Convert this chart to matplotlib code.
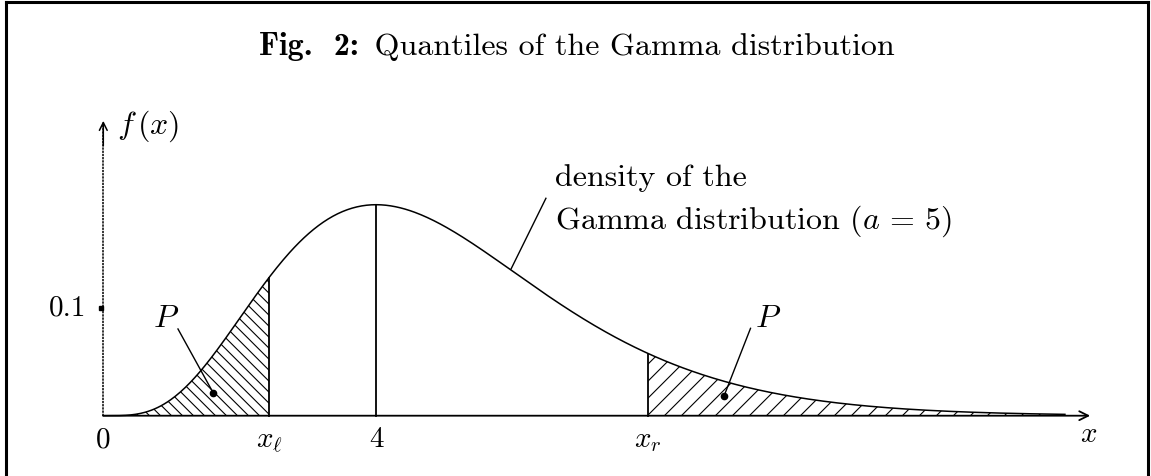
import math
import numpy as np
import matplotlib
matplotlib.use('Agg')
import matplotlib.pyplot as plt
from matplotlib.lines import Line2D
from matplotlib.patches import Polygon
from matplotlib.collections import LineCollection

plt.rcParams['mathtext.fontset'] = 'cm'
plt.rcParams['font.family'] = 'cmr10'
plt.rcParams['axes.formatter.use_mathtext'] = True

# --- dados ---
forma_a = 5            # parâmetro da Gamma
x_esq = 2.43           # quantil x_l (P = 0.1)
x_dir = 7.99           # quantil x_r (P = 0.1)
moda = 4
marca_y = [0.1]
x_fim = 14.1           # até onde a curva é desenhada

# escala em pixels por unidade (figura 1151x477 a 100 dpi)
SX, SY = 68.2, 1080.0
X0_PX, Y0_PX = 103.3, 416.7


def densidade(x):
    return x ** (forma_a - 1) * np.exp(-x) / math.gamma(forma_a)


def hachura(ax, x0, x1, passo_px, sentido):
    """Hachura a 45 graus (em pixels) sob a curva entre x0 e x1."""
    xs = np.linspace(x0, x1, 300)
    verts = np.column_stack([np.r_[x0, xs, x1], np.r_[0, densidade(xs), 0]])
    area = Polygon(verts, closed=True, facecolor='none', edgecolor='none')
    ax.add_patch(area)
    k = sentido * SX / SY
    segs = []
    for c in np.arange(x0 - 4, x1 + 4, passo_px / SX):
        xa, xb = c - 4, c + 4
        segs.append([(xa, k * (xa - c)), (xb, k * (xb - c))])
    lc = LineCollection(segs, colors='black', linewidths=0.8, zorder=2)
    ax.add_collection(lc, autolim=False)
    lc.set_clip_path(area)


fig = plt.figure(figsize=(11.51, 4.77), dpi=100)
ax = fig.add_axes([0, 0, 1, 1])
ax.set_xlim(-X0_PX / SX, (1151 - X0_PX) / SX)
ax.set_ylim(-(477 - Y0_PX) / SY, Y0_PX / SY)
ax.axis('off')

xs = np.linspace(0, x_fim, 600)
ax.plot(xs, densidade(xs), color='black', lw=1.1, zorder=3)

# caudas hachuradas
hachura(ax, 0, x_esq, 11, -1)
hachura(ax, x_dir, x_fim, 17, 1)

# linhas verticais nos quantis e na moda
for xv in [x_esq, moda, x_dir]:
    ax.plot([xv, xv], [0, densidade(xv)], color='black', lw=1.3, zorder=3)

# eixos com setas
ax.annotate('', xy=(14.47, 0), xytext=(0, 0),
            arrowprops=dict(arrowstyle='->', lw=1.3, color='black',
                            mutation_scale=16, shrinkA=0, shrinkB=0))
ax.plot([0, 0], [0, 0.27], color='black', lw=1.1, linestyle=(0, (1.5, 0.6)))
ax.annotate('', xy=(0, 0.273), xytext=(0, 0.25),
            arrowprops=dict(arrowstyle='->', lw=1.1, color='black',
                            mutation_scale=14, shrinkA=0, shrinkB=0))
for yt in marca_y:
    ax.plot([-0.03], [yt], 's', color='black', ms=3.5)
    ax.text(-0.25, yt, f'{yt:g}', ha='right', va='center', fontsize=21)

fs = 21
ax.text(0, -0.0282, '0', ha='center', va='baseline', fontsize=fs)
ax.text(x_esq, -0.0282, r'$x_\ell$', ha='center', va='baseline', fontsize=fs)
ax.text(moda, -0.0282, '4', ha='center', va='baseline', fontsize=fs)
ax.text(x_dir, -0.0282, r'$x_r$', ha='center', va='baseline', fontsize=fs)
ax.text(14.45, -0.0236, r'$x$', ha='center', va='baseline', fontsize=fs)
ax.text(0.2, 0.269, r'$f\,(x)$', ha='left', va='center', fontsize=23)

# rótulos P com setinhas
ax.text(0.927, 0.0904, r'$P$', ha='center', va='center', fontsize=23)
ax.plot([1.095, 1.613], [0.0803, 0.0210], color='black', lw=1.0)
ax.plot([1.613], [0.0210], 'ko', ms=4.5)
ax.text(9.75, 0.0904, r'$P$', ha='center', va='center', fontsize=23)
ax.plot([9.49, 9.10], [0.0809, 0.0180], color='black', lw=1.0)
ax.plot([9.10], [0.0180], 'ko', ms=4.5)

# legenda da curva
ax.plot([5.98, 6.49], [0.136, 0.2013], color='black', lw=1.0)
ax.text(6.62, 0.2136, 'density of the', ha='left', va='baseline', fontsize=23)
ax.text(6.62, 0.1744, r'Gamma distribution $(a\,=\,5)$', ha='left', va='baseline',
        fontsize=23)

# título: parte em negrito + resto, centrado em x = 574 px
t1 = fig.text(0, 0.885, 'Fig.  2:', fontfamily='cmb10', ha='left', va='baseline',
              fontsize=23)
t2 = fig.text(0, 0.885, ' Quantiles of the Gamma distribution', ha='left',
              va='baseline', fontsize=23)
fig.canvas.draw()
r = fig.canvas.get_renderer()
w1 = t1.get_window_extent(r).width
w2 = t2.get_window_extent(r).width
x_ini = 574 - (w1 + w2) / 2
t1.set_x(x_ini / 1151)
t2.set_x((x_ini + w1 + 6) / 1151)

# moldura
for xs_, ys_ in [([6, 6], [0, 474]), ([6, 1148], [474, 474]), ([1148, 1148], [0, 474])]:
    fig.add_artist(Line2D(np.array(xs_) / 1151, np.array(ys_) / 477,
                          transform=fig.transFigure, color='black', lw=2.2))

fig.savefig('out.png', dpi=100, facecolor='white')
